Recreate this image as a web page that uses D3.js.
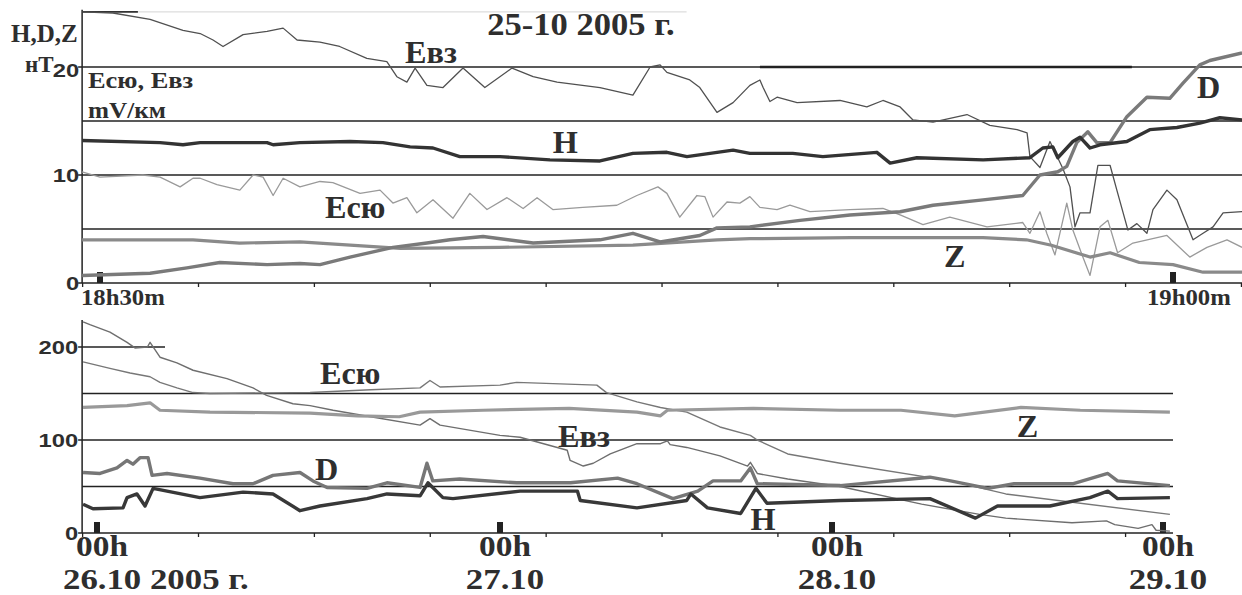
<!DOCTYPE html>
<html>
<head>
<meta charset="utf-8">
<script src="https://cdn.jsdelivr.net/npm/d3@7"></script>
<style>
  body { margin: 0; background: #fff; }
  svg { display: block; }
  .serif { font-family: "Liberation Serif", "Times New Roman", serif; font-weight: bold; fill: #2e2e2e; }
  .sans { font-family: "Liberation Sans", Arial, sans-serif; font-weight: bold; fill: #2e2e2e; }
</style>
</head>
<body>
<svg width="1242" height="595"></svg>
<script>
// top panel: minutes after 18h30m, 25-10-2005 (H,D,Z in nT, E in mV/km)
const topEvz = [[-0.5,25.1],[0.36,25.0],[1.4,24.4],[2.32,23.4],[2.8,23.1],[3.16,22.5],[3.44,21.9],[4.0,23.0],[4.67,23.3],[5.12,23.6],[5.51,22.5],[6.15,22.3],[6.7,21.9],[7.46,20.8],[8.02,20.5],[8.3,19.1],[8.58,18.6],[8.81,19.9],[9.14,18.3],[9.59,18.1],[10.15,19.9],[10.76,18.1],[11.52,19.9],[12.11,19.1],[12.78,18.6],[13.98,18.1],[14.9,17.4],[15.38,20.0],[15.66,20.2],[15.85,19.5],[16.49,18.8],[16.77,18.1],[17.25,15.8],[17.7,16.7],[18.17,18.3],[18.45,18.8],[18.54,18.1],[18.73,16.8],[18.93,17.2],[19.49,16.7],[20.69,16.9],[21.44,16.3],[21.89,16.9],[22.37,16.3],[22.73,15.1],[23.29,14.9],[24.24,15.6],[24.88,14.6],[25.64,14.2],[25.92,13.9],[26.0,11.7],[26.28,10.7],[26.56,13.1],[26.92,10.6],[27.12,8.9],[27.26,5.2],[27.4,6.5],[27.68,6.5],[27.9,10.9],[28.24,10.9],[28.43,8.6],[28.74,4.9],[28.99,5.5],[29.27,4.6],[29.44,6.8],[29.83,8.6],[30.11,7.7],[30.56,4.0],[30.84,4.6],[31.12,5.2],[31.4,6.5],[31.93,6.6]];
const topEsu = [[-0.5,10.3],[0,9.8],[1.2,10.0],[1.68,9.8],[2.24,8.9],[2.6,9.7],[2.8,9.7],[3.27,9.1],[3.91,8.6],[4.28,10.0],[4.56,9.8],[4.84,8.1],[5.12,9.7],[5.59,8.9],[6.15,9.4],[6.51,9.3],[7.27,8.3],[7.83,8.6],[8.19,7.4],[8.58,7.9],[8.86,6.5],[9.31,7.7],[9.87,6.0],[10.34,8.3],[10.82,6.8],[11.38,7.9],[11.83,6.9],[12.22,7.9],[12.66,6.8],[13.5,7.0],[14.45,7.2],[15.01,8.1],[15.6,8.9],[15.85,8.3],[16.21,6.1],[16.69,8.1],[16.91,8.0],[17.14,6.1],[17.53,7.5],[17.89,7.4],[18.17,8.0],[18.45,7.0],[18.93,6.8],[19.29,7.2],[19.85,6.6],[20.97,6.8],[21.89,6.9],[22.37,6.3],[23.01,5.4],[23.76,6.1],[24.8,5.2],[25.8,5.6],[26.0,4.6],[26.28,6.6],[26.47,4.6],[26.7,2.6],[27.03,7.4],[27.2,4.9],[27.48,2.4],[27.68,0.7],[27.96,5.2],[28.18,5.8],[28.45,2.8],[28.88,3.7],[29.83,4.4],[30.47,2.4],[30.95,3.3],[31.51,4.0],[31.93,3.3]];
const topH = [[-0.5,13.2],[1.68,13.0],[2.32,12.8],[2.8,13.0],[4.67,13.0],[4.84,12.8],[5.59,13.0],[6.99,13.1],[7.91,13.0],[8.67,12.6],[9.31,12.5],[10.06,11.7],[11.18,11.7],[12.58,11.4],[13.98,11.3],[14.9,12.0],[15.85,12.1],[16.41,11.7],[17.7,12.3],[18.17,12.0],[19.37,12.0],[20.21,11.7],[21.72,12.1],[22.09,11.1],[22.84,11.6],[24.69,11.4],[26.0,11.6],[26.36,12.5],[26.64,12.6],[26.78,11.6],[27.2,13.1],[27.4,13.5],[27.68,12.5],[27.96,12.8],[28.71,13.1],[29.35,14.2],[30.11,14.4],[30.75,14.8],[31.31,15.3],[31.93,15.1]];
const topD = [[-0.5,0.7],[1.4,0.9],[2.43,1.4],[3.35,1.9],[4.67,1.7],[5.59,1.8],[6.15,1.7],[6.99,2.4],[8.19,3.3],[9.14,3.7],[9.78,4.0],[10.71,4.3],[12.11,3.7],[13.98,4.0],[14.9,4.6],[15.66,3.8],[16.77,4.4],[17.25,5.1],[18.17,5.2],[19.57,5.8],[20.97,6.3],[22.37,6.6],[23.29,7.2],[24.69,7.7],[25.8,8.1],[26.28,10.0],[26.78,10.3],[27.03,10.8],[27.31,13.0],[27.62,14.0],[27.87,13.0],[28.24,13.0],[28.71,15.4],[29.27,17.2],[29.91,17.1],[30.28,18.5],[30.75,20.2],[31.03,20.6],[31.93,21.3]];
const topZ = [[-0.5,4.0],[2.6,4.0],[3.9,3.7],[5.59,3.8],[8.4,3.2],[11.18,3.3],[14.9,3.5],[17.25,4.0],[18.17,4.1],[21.0,4.2],[24.69,4.2],[25.9,4.0],[26.6,3.5],[27.68,2.4],[28.24,2.8],[29.06,1.9],[30.0,1.7],[30.84,1.0],[31.93,1.0]];

// bottom panel: hours after 00h 26.10.2005
const botEvz = [[-0.83,227],[-0.42,224],[0.77,216],[1.79,205],[2.26,199],[3.0,200],[3.16,205],[3.75,189],[4.76,183],[5.72,175],[7.74,166],[9.29,156],[10.1,148],[11.67,139],[12.69,137],[14.06,132],[16.3,125],[19.24,116],[19.83,123],[20.43,116],[24,105],[25.45,103],[28.86,89],[29.07,78],[30.02,72],[30.74,75],[31.97,85],[33.9,96],[35.6,96],[36.1,99],[36.3,95],[37.5,92],[39.9,83],[41.9,72],[42.1,76],[42.6,64],[44.8,58],[48.6,50],[54.5,31],[58.7,20],[60.6,16],[65.4,11],[67.9,13],[68.5,9],[70.2,5],[71.2,9],[71.5,3],[72.5,2]];
const botEsu = [[-0.83,184],[0.77,177],[1.97,172],[3.16,168],[3.75,162],[4.76,156],[5.72,151],[6.73,150],[12.69,151],[16.3,154],[19.24,156],[19.83,164],[20.43,157],[24,159],[25.2,162],[31.0,159],[31.7,151],[33.9,141],[35.6,135],[37.5,130],[39.9,114],[42.1,105],[42.6,100],[44.8,85],[48.6,75],[56.6,56],[60.6,42],[72.5,20]];
const botZ = [[-0.83,135],[1.79,137],[3.16,140],[3.75,132],[6.73,130],[12.69,129],[15.5,126],[18.0,125],[19.24,130],[23.0,132],[29.0,134],[33.9,130],[35.6,126],[36.1,132],[42.3,134],[48.6,132],[53.0,132],[56.9,126],[61.7,135],[66.0,132],[72.5,130]];
const botD = [[-0.83,65],[0.18,64],[1.19,70],[1.79,78],[2.14,74],[2.56,81],[3.04,81],[3.28,62],[4.17,64],[6.13,59],[8.1,53],[9.29,53],[10.48,62],[12.09,65],[12.86,56],[13.7,49],[16.08,48],[17.27,54],[19.24,49],[19.65,75],[20.0,56],[21.6,58],[25.2,54],[29.1,54],[32.5,59],[33.9,53],[36.5,37],[38.3,45],[39.4,56],[41.4,56],[42.1,70],[42.6,53],[48.6,51],[55.1,60],[56.6,56],[59.3,48],[61.2,53],[65.5,53],[68.0,64],[68.7,56],[72.5,51]];
const botH = [[-0.83,31],[-0.24,26],[1.55,27],[1.79,38],[2.38,42],[2.86,29],[3.34,48],[4.17,45],[6.13,38],[8.7,44],[10.48,42],[12.09,24],[13.28,29],[16.08,37],[17.27,42],[19.24,40],[19.71,54],[20.6,38],[21.2,37],[25.45,45],[29.6,45],[29.8,35],[33.9,27],[37.5,35],[37.8,42],[39.0,27],[41.4,21],[42.5,48],[43.3,32],[48.6,35],[55.1,37],[58.4,16],[60.0,29],[63.8,29],[66.7,38],[68.0,45],[68.7,37],[72.5,38]];

const topTicks = [0, 10, 20];
const topGrid = [5, 10, 15, 20];
const botTicks = [0, 100, 200];
const botGrid = [50, 100, 150];
const days = ["26.10 2005 г.", "27.10", "28.10", "29.10"];

const svg = d3.select("svg");

// scales
const xT = d3.scaleLinear().domain([0, 30]).range([100, 1173]);
const yT = d3.scaleLinear().domain([0, 20]).range([283, 67]);
const t0 = new Date(2005, 9, 26);
const dayDates = d3.range(4).map(i => d3.timeDay.offset(t0, i));
const xB = d3.scaleTime().domain(dayDates).range([97, 500, 832, 1163]);
const yB = d3.scaleLinear().domain([0, 200]).range([533, 347]);
const hr = h => new Date(t0.getTime() + h * 3600e3);

const minorT = d3.range(-0.5, 31.95, 3.24);

// the scanned figure is slightly stretched sideways
const wide = (x, y, s) => `translate(${x},${y}) scale(${s},1)`;

// ---------- top panel ----------
const topG = svg.append("g");

topG.selectAll(".grid").data(topGrid).join("line")
  .attr("x1", xT(-0.5)).attr("x2", 1242)
  .attr("y1", d => yT(d)).attr("y2", d => yT(d))
  .attr("stroke", "#222").attr("stroke-width", 1.3);
// upper faint line and remnant segments
topG.append("line").attr("x1", xT(-0.5)).attr("x2", xT(16.4))
  .attr("y1", yT(25.1)).attr("y2", yT(25.1)).attr("stroke", "#ddd").attr("stroke-width", 1.3);
topG.append("line").attr("x1", xT(-0.5)).attr("x2", xT(1.06))
  .attr("y1", yT(25.1)).attr("y2", yT(25.1)).attr("stroke", "#333").attr("stroke-width", 1.6);
topG.append("line").attr("x1", xT(18.45)).attr("x2", xT(28.85))
  .attr("y1", yT(20)).attr("y2", yT(20)).attr("stroke", "#222").attr("stroke-width", 2.4);

// axes
topG.append("line").attr("x1", xT(-0.5)).attr("x2", 1242)
  .attr("y1", yT(0)).attr("y2", yT(0)).attr("stroke", "#222").attr("stroke-width", 1.5);
topG.append("line").attr("x1", xT(-0.5)).attr("x2", xT(-0.5))
  .attr("y1", yT(0)).attr("y2", yT(25.3)).attr("stroke", "#222").attr("stroke-width", 1.5);
topG.append("g").attr("transform", `translate(0,${yT(0)})`)
  .call(d3.axisBottom(xT).tickValues(minorT).tickSize(4).tickFormat(""))
  .call(g => g.select(".domain").remove())
  .call(g => g.selectAll("line").attr("stroke", "#222").attr("stroke-width", 1.3));
topG.selectAll(".ytick").data(topTicks).join("line")
  .attr("x1", xT(-0.5) - 4).attr("x2", xT(-0.5))
  .attr("y1", d => yT(d)).attr("y2", d => yT(d)).attr("stroke", "#222").attr("stroke-width", 1.5);
topG.selectAll(".ylab").data(topTicks).join("text")
  .attr("class", "sans").attr("font-size", 19).attr("text-anchor", "end")
  .attr("transform", d => wide(xT(-0.5) - 3, yT(d) + 7 + (d === 20 ? 3 : 0), 1.25))
  .text(d => d);
// hour markers
topG.selectAll(".mark").data([0, 30]).join("rect")
  .attr("x", d => xT(d) - 3).attr("y", yT(0) - 11).attr("width", 6).attr("height", 11).attr("fill", "#222");
topG.selectAll(".xlab").data([[0, "18h30m"], [30, "19h00m"]]).join("text")
  .attr("class", "serif").attr("font-size", 24)
  .attr("transform", d => wide(xT(d[0]) - (d[0] ? 26 : 19), 305, 1.03)).text(d => d[1]);

const lineT = d3.line().x(d => xT(d[0])).y(d => yT(d[1]));
const topSeries = [
  [topEvz, "#505050", 1.3],
  [topEsu, "#9a9a9a", 1.3],
  [topZ, "#8a8a8a", 3.2],
  [topD, "#7a7a7a", 3.4],
  [topH, "#333", 3.4]
];
topG.selectAll(".series").data(topSeries).join("path")
  .attr("fill", "none").attr("stroke-linejoin", "round")
  .attr("d", d => lineT(d[0])).attr("stroke", d => d[1]).attr("stroke-width", d => d[2]);

// top labels
const topLabels = [["Евз", 8.53, 20.4], ["H", 12.66, 12.0], ["Есю", 6.29, 6.0], ["Z", 23.6, 1.5], ["D", 30.67, 17.1]];
topG.selectAll(".lab").data(topLabels).join("text")
  .attr("class", "serif").attr("font-size", 31)
  .attr("transform", d => wide(xT(d[1]), yT(d[2]), 1.04)).text(d => d[0]);

topG.append("text").attr("class", "serif").attr("font-size", 32).attr("text-anchor", "middle")
  .attr("transform", wide(581, 35, 1.08)).text("25-10 2005 г.");
topG.append("text").attr("class", "serif").attr("font-size", 25).attr("x", 11).attr("y", 42).text("H,D,Z");
topG.append("text").attr("class", "serif").attr("font-size", 23).attr("x", 25).attr("y", 72).text("нТ");
topG.append("text").attr("class", "serif").attr("font-size", 24)
  .attr("transform", wide(88, 88, 1.1)).text("Есю, Евз");
topG.append("text").attr("class", "serif").attr("font-size", 24)
  .attr("transform", wide(88, 118, 1.05)).text("mV/км");

// ---------- bottom panel ----------
const botG = svg.append("g");
const xStart = xT(-0.5), xEnd = 1173;

botG.selectAll(".grid").data(botGrid).join("line")
  .attr("x1", xStart).attr("x2", xEnd)
  .attr("y1", d => yB(d)).attr("y2", d => yB(d))
  .attr("stroke", "#222").attr("stroke-width", 1.3);
botG.append("line").attr("x1", xStart).attr("x2", xB(hr(4.05)))
  .attr("y1", yB(200)).attr("y2", yB(200)).attr("stroke", "#222").attr("stroke-width", 1.3);

botG.append("line").attr("x1", xStart).attr("x2", xEnd)
  .attr("y1", yB(0)).attr("y2", yB(0)).attr("stroke", "#222").attr("stroke-width", 1.5);
botG.append("line").attr("x1", xStart).attr("x2", xStart)
  .attr("y1", yB(0)).attr("y2", yB(229)).attr("stroke", "#222").attr("stroke-width", 1.5);
const minorB = minorT.filter(t => xT(t) <= xEnd).map(t => xB.invert(xT(t)));
botG.append("g").attr("transform", `translate(0,${yB(0)})`)
  .call(d3.axisBottom(xB).tickValues(minorB).tickSize(4).tickFormat(""))
  .call(g => g.select(".domain").remove())
  .call(g => g.selectAll("line").attr("stroke", "#222").attr("stroke-width", 1.3));
botG.selectAll(".ytick").data(botTicks).join("line")
  .attr("x1", xStart - 4).attr("x2", xStart)
  .attr("y1", d => yB(d)).attr("y2", d => yB(d)).attr("stroke", "#222").attr("stroke-width", 1.5);
botG.selectAll(".ylab").data(botTicks).join("text")
  .attr("class", "sans").attr("font-size", 19).attr("text-anchor", "end")
  .attr("transform", d => wide(xStart - 4, yB(d) + 7, 1.25))
  .text(d => d);

botG.selectAll(".mark").data(dayDates).join("rect")
  .attr("x", d => xB(d) - 3).attr("y", yB(0) - 11).attr("width", 6).attr("height", 11).attr("fill", "#222");
botG.selectAll(".hlab").data(dayDates).join("text")
  .attr("class", "serif").attr("font-size", 29).attr("text-anchor", "middle")
  .attr("transform", d => wide(xB(d) + 5, 556, 1.15)).text("00h");
botG.selectAll(".dlab").data(dayDates).join("text")
  .attr("class", "serif").attr("font-size", 29)
  .attr("text-anchor", (d, i) => i ? "middle" : "start")
  .attr("transform", (d, i) => wide(i ? xB(d) + 5 : xB(d) - 34, 589, 1.2))
  .text((d, i) => days[i]);

const lineB = d3.line().x(d => xB(hr(d[0]))).y(d => yB(d[1]));
const botSeries = [
  [botEvz, "#6e6e6e", 1.4],
  [botEsu, "#777", 1.4],
  [botZ, "#999", 3.2],
  [botD, "#767676", 3.4],
  [botH, "#383838", 3.4]
];
botG.selectAll(".series").data(botSeries).join("path")
  .attr("fill", "none").attr("stroke-linejoin", "round")
  .attr("d", d => lineB(d[0])).attr("stroke", d => d[1]).attr("stroke-width", d => d[2]);

const botLabels = [["Есю", 13.28, 160], ["Евз", 28.2, 92.5], ["D", 12.98, 57], ["H", 42.1, 3], ["Z", 61.4, 103]];
botG.selectAll(".lab").data(botLabels).join("text")
  .attr("class", "serif").attr("font-size", 31)
  .attr("transform", d => wide(xB(hr(d[1])), yB(d[2]), 1.04)).text(d => d[0]);
</script>
</body>
</html>
